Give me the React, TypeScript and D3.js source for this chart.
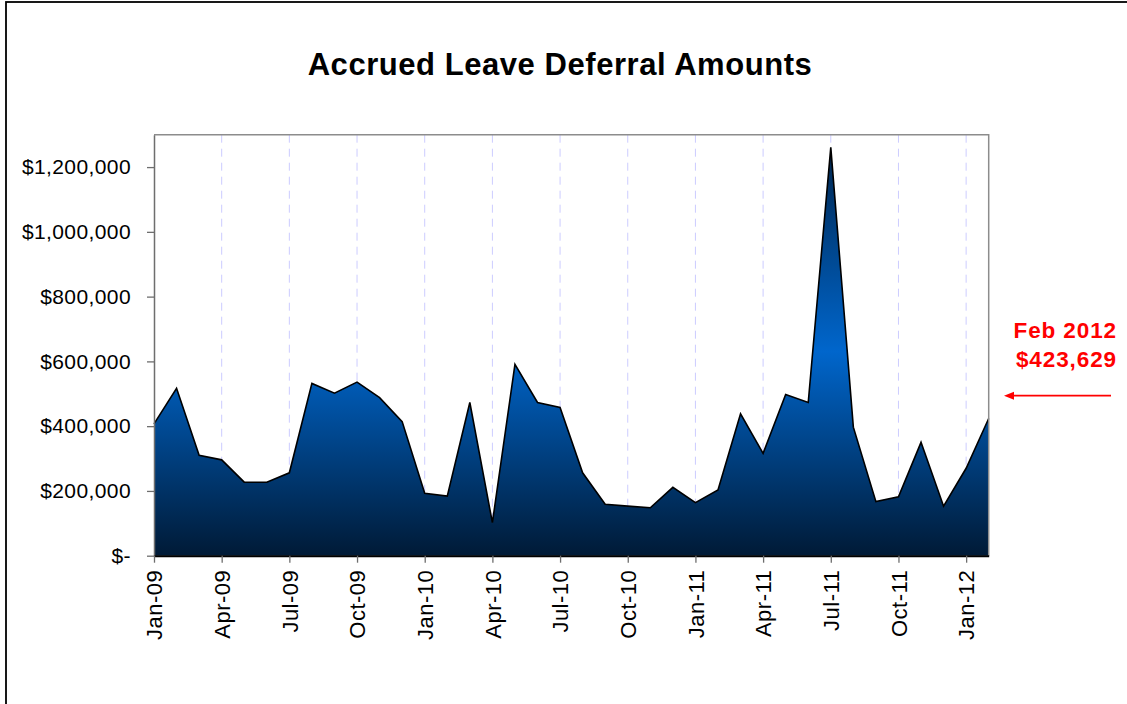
import { useEffect, useRef } from 'react';
import * as d3 from 'd3';

const months = [
  'Jan-09', 'Feb-09', 'Mar-09', 'Apr-09', 'May-09', 'Jun-09', 'Jul-09', 'Aug-09', 'Sep-09', 'Oct-09', 'Nov-09', 'Dec-09',
  'Jan-10', 'Feb-10', 'Mar-10', 'Apr-10', 'May-10', 'Jun-10', 'Jul-10', 'Aug-10', 'Sep-10', 'Oct-10', 'Nov-10', 'Dec-10',
  'Jan-11', 'Feb-11', 'Mar-11', 'Apr-11', 'May-11', 'Jun-11', 'Jul-11', 'Aug-11', 'Sep-11', 'Oct-11', 'Nov-11', 'Dec-11',
  'Jan-12', 'Feb-12',
];

const amounts = [
  407000, 517000, 310000, 296000, 227000, 227000, 256000, 532000, 502000, 536000, 488000, 414000,
  193000, 184000, 473000, 102000, 591000, 473000, 458000, 256000, 159000, 153000, 148000, 211000,
  164000, 203000, 438000, 316000, 498000, 473000, 1261000, 397000, 167000, 182000, 350000, 153000,
  270000, 423629,
];

const yTicks = [0, 200000, 400000, 600000, 800000, 1000000, 1200000];
const xTickLabels = months.filter((_, i) => i % 3 === 0);

const title = 'Accrued Leave Deferral Amounts';
const noteLines = ['Feb 2012', '$423,629'];

const font = 'Arial, "Liberation Sans", sans-serif';

export default function App() {
  const ref = useRef<HTMLDivElement>(null);
  useEffect(() => {
    document.body.style.margin = '0';

    const width = 1127;
    const height = 704;
    const marginLeft = 154;
    const plotRight = 988.7;
    const plotTop = 134.7;
    const plotBottom = 555.7;

    const x = d3.scalePoint<string>()
      .domain(months)
      .range([marginLeft, plotRight]);

    const y = d3.scaleLinear()
      .domain([0, 1300000])
      .range([plotBottom, plotTop]);

    const svg = d3.create('svg')
      .attr('width', width)
      .attr('height', height)
      .attr('viewBox', [0, 0, width, height])
      .style('display', 'block')
      .style('font-family', font);

    svg.append('rect')
      .attr('width', width)
      .attr('height', height)
      .attr('fill', '#fff');

    // outer chart frame (runs off the right and bottom edges)
    svg.append('rect')
      .attr('x', 6)
      .attr('y', 2)
      .attr('width', width + 20)
      .attr('height', height + 20)
      .attr('fill', 'none')
      .attr('stroke', '#000')
      .attr('stroke-width', 1.8);

    svg.append('text')
      .attr('x', 560)
      .attr('y', 75)
      .attr('text-anchor', 'middle')
      .attr('font-weight', 'bold')
      .attr('font-size', 31)
      .attr('letter-spacing', 0.55)
      .text(title);

    const defs = svg.append('defs');
    const grad = defs.append('linearGradient')
      .attr('id', 'areaFill')
      .attr('x1', 0).attr('y1', 0)
      .attr('x2', 0).attr('y2', 1);
    grad.append('stop').attr('offset', '0%').attr('stop-color', '#00264f');
    grad.append('stop').attr('offset', '50%').attr('stop-color', '#0066cc');
    grad.append('stop').attr('offset', '100%').attr('stop-color', '#001a36');

    // dashed vertical gridlines at quarter ticks
    svg.append('g')
      .selectAll('line')
      .data(xTickLabels.slice(1))
      .join('line')
      .attr('x1', (d) => x(d)!)
      .attr('x2', (d) => x(d)!)
      .attr('y1', plotTop)
      .attr('y2', plotBottom)
      .attr('stroke', '#ccccff')
      .attr('stroke-dasharray', '8,6');

    const area = d3.area<number>()
      .x((_, i) => x(months[i])!)
      .y0(y(0))
      .y1((d) => y(d));

    const line = d3.line<number>()
      .x((_, i) => x(months[i])!)
      .y((d) => y(d));

    svg.append('path')
      .datum(amounts)
      .attr('d', area)
      .attr('fill', 'url(#areaFill)');

    svg.append('path')
      .datum(amounts)
      .attr('d', line)
      .attr('fill', 'none')
      .attr('stroke', '#000')
      .attr('stroke-width', 1.6)
      .attr('stroke-linejoin', 'miter');

    // plot border top/right
    svg.append('path')
      .attr('d', `M${marginLeft},${plotTop}H${plotRight}V${plotBottom}`)
      .attr('fill', 'none')
      .attr('stroke', '#8c8c8c')
      .attr('stroke-width', 1.5);

    // y axis
    svg.append('g')
      .attr('transform', `translate(${marginLeft},0)`)
      .call(d3.axisLeft(y)
        .tickValues(yTicks)
        .tickSize(7)
        .tickSizeOuter(0)
        .tickPadding(16)
        .tickFormat((d) => (+d === 0 ? '$-' : '$' + d3.format(',')(+d))))
      .call((g) => g.select('.domain').attr('stroke', '#6e6e6e').attr('stroke-width', 1.5))
      .call((g) => g.selectAll('.tick line').attr('stroke', '#6e6e6e').attr('stroke-width', 1.3))
      .call((g) => g.selectAll('.tick text')
        .attr('font-family', font)
        .attr('font-size', 21)
        .attr('letter-spacing', 0.4)
        .attr('fill', '#000'));

    // x axis
    svg.append('g')
      .attr('transform', `translate(0,${plotBottom})`)
      .call(d3.axisBottom(x)
        .tickValues(xTickLabels)
        .tickSize(7)
        .tickSizeOuter(0)
        .tickFormat((d) => d))
      .call((g) => g.select('.domain').attr('stroke', '#000').attr('stroke-width', 2))
      .call((g) => g.selectAll('.tick line').attr('stroke', '#6e6e6e').attr('stroke-width', 1.3))
      .call((g) => g.selectAll('.tick text')
        .attr('font-family', font)
        .attr('font-size', 22)
        .attr('letter-spacing', 0.5)
        .attr('fill', '#000')
        .attr('transform', 'rotate(-90)')
        .attr('text-anchor', 'end')
        .attr('x', -14)
        .attr('y', 0)
        .attr('dy', '0.35em'));

    // annotation
    const note = svg.append('g')
      .attr('fill', '#ff0000')
      .attr('font-weight', 'bold')
      .attr('font-size', 22.5)
      .attr('letter-spacing', 0.9)
      .attr('text-anchor', 'end');
    note.selectAll('text')
      .data(noteLines)
      .join('text')
      .attr('x', 1117)
      .attr('y', (_, i) => 338 + i * 29)
      .text((d) => d);

    const arrowY = 395.7;
    svg.append('line')
      .attr('x1', 1111)
      .attr('x2', 1012)
      .attr('y1', arrowY)
      .attr('y2', arrowY)
      .attr('stroke', '#ff0000')
      .attr('stroke-width', 1.8);
    svg.append('path')
      .attr('d', `M1004,${arrowY}L1014,${arrowY - 4}L1014,${arrowY + 4}Z`)
      .attr('fill', '#ff0000');

    const node = svg.node()!;
    ref.current?.append(node);
    return () => {
      node.remove();
    };
  }, []);
  return <div ref={ref} />;
}
